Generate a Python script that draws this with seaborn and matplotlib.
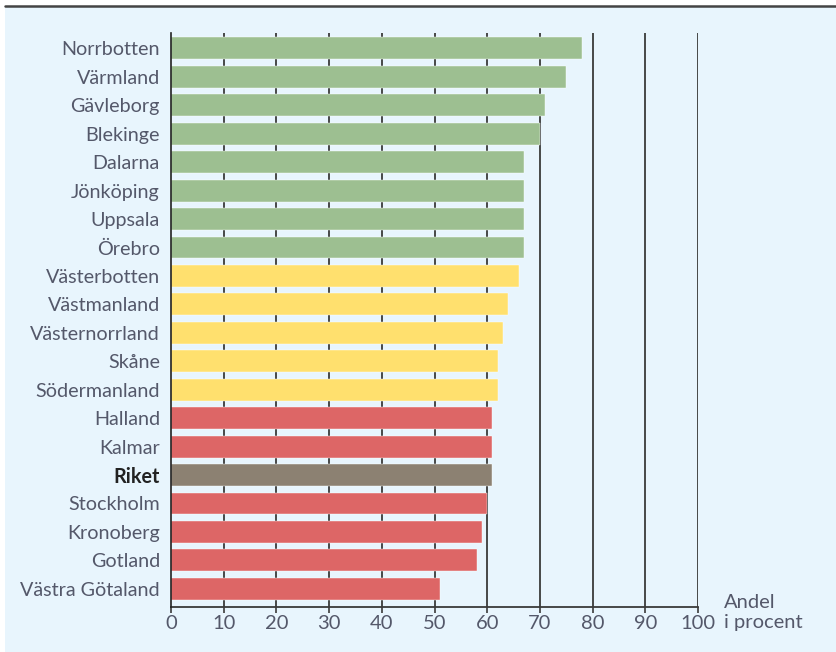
"""Andel i procent per län, liggande stapeldiagram."""
import matplotlib
matplotlib.use('Agg')
import matplotlib.pyplot as plt
from matplotlib.patches import Rectangle
from matplotlib.lines import Line2D
import pandas as pd
import seaborn as sns

# data
regions = ['Norrbotten', 'Värmland', 'Gävleborg', 'Blekinge', 'Dalarna',
           'Jönköping', 'Uppsala', 'Örebro', 'Västerbotten', 'Västmanland',
           'Västernorrland', 'Skåne', 'Södermanland', 'Halland', 'Kalmar',
           'Riket', 'Stockholm', 'Kronoberg', 'Gotland', 'Västra Götaland']
values = [78, 75, 71, 70, 67, 67, 67, 67, 66, 64,
          63, 62, 62, 61, 61, 61, 60, 59, 58, 51]
groups = ['hög'] * 8 + ['mellan'] * 5 + ['låg'] * 2 + ['riket'] + ['låg'] * 4
group_colors = {'hög': '#9dbf91', 'mellan': '#ffe06e',
                'låg': '#dd6666', 'riket': '#8c8172'}
x_ticks = list(range(0, 101, 10))

df = pd.DataFrame({'region': regions, 'value': values, 'group': groups})

sns.set_style('white')
plt.rcParams['font.family'] = ['Lato', 'DejaVu Sans']

bg = '#e8f5fd'
text_color = '#54586a'

fig = plt.figure(figsize=(8.37, 6.52), dpi=100, facecolor='white')
# light blue panel with a dark rule along the top (kept behind the axes)
fig.add_artist(Rectangle((5 / 837, 0), 1, 1 - 6 / 652,
                         transform=fig.transFigure, facecolor=bg,
                         edgecolor='none', zorder=-10))
fig.add_artist(Line2D([5 / 837, 1], [1 - 6 / 652] * 2,
                      transform=fig.transFigure, color='#444444', lw=1.8,
                      zorder=-5))

ax = fig.add_axes([171 / 837, 1 - 607 / 652, 527 / 837, 574 / 652])
ax.set_facecolor(bg)

sns.barplot(data=df, x='value', y='region', hue='group', palette=group_colors,
            dodge=False, width=0.77, saturation=1, legend=False, ax=ax,
            zorder=3, edgecolor='white', linewidth=0.3)

# vertical grid lines behind the bars
for t in x_ticks[1:]:
    ax.axvline(t, color='#3a3a3a', lw=1.3, zorder=1)

ax.set_xlim(0, 100)
ax.set_ylim(len(regions) - 1 + 0.64, -0.54)
ax.set_xticks(x_ticks)
ax.set(xlabel='', ylabel='')

for side in ['top', 'right']:
    ax.spines[side].set_visible(False)
ax.spines['left'].set_color('#222222')
ax.spines['bottom'].set_color('#3a3a3a')
ax.spines['left'].set_linewidth(1.2)
ax.spines['bottom'].set_linewidth(1.3)
ax.spines['left'].set_zorder(4)

ax.tick_params(axis='x', length=4, width=1.2, color='#3a3a3a', pad=2,
               labelsize=14.5, labelcolor=text_color, direction='out',
               bottom=True)
ax.tick_params(axis='y', length=0, pad=8, labelsize=14.2,
               labelcolor=text_color)

for label in ax.get_yticklabels():
    if label.get_text() == 'Riket':
        label.set_fontweight('bold')
        label.set_color('#222222')

ax.annotate('Andel\ni procent', xy=(1, 0), xycoords='axes fraction',
            xytext=(26, 13), textcoords='offset pixels', ha='left', va='top',
            fontsize=14.5, color=text_color, linespacing=1.2,
            annotation_clip=False)

fig.savefig('out.png', dpi=100, facecolor=fig.get_facecolor())
